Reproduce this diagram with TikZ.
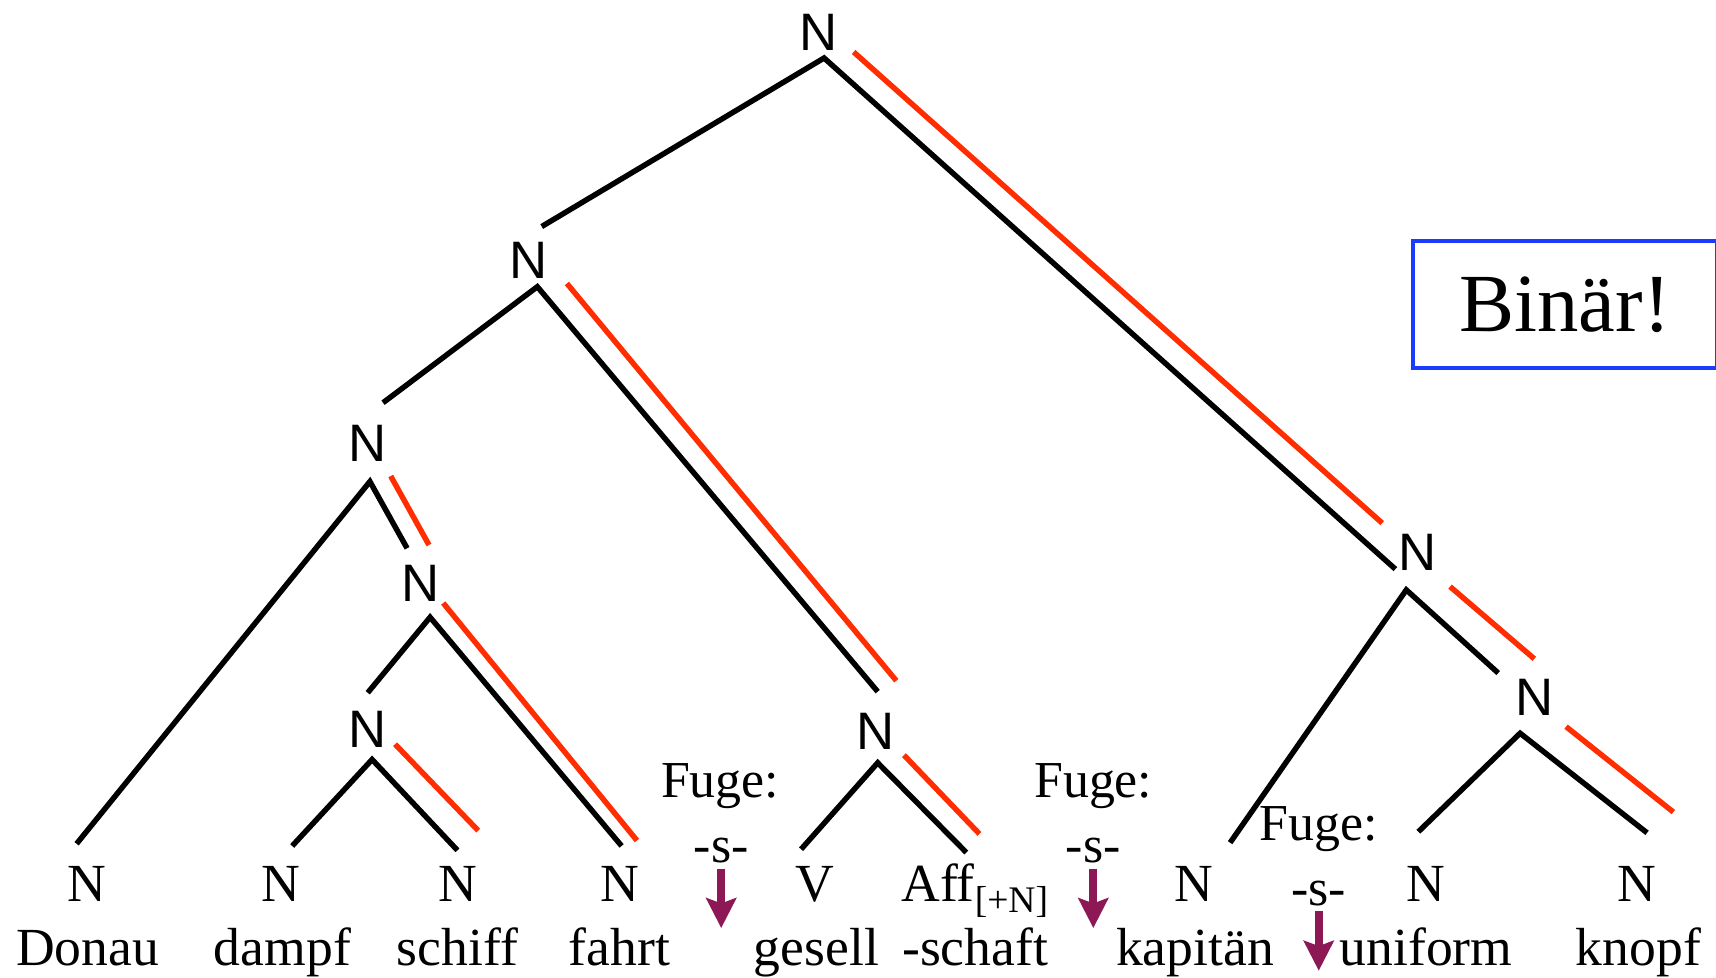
\documentclass[tikz,border=0pt]{standalone}
\usepackage{fontspec}
\setmainfont{Liberation Serif}
\newfontfamily\treefont{Liberation Sans}
\usepackage{tikz}
\usetikzlibrary{arrows.meta,calc}
\definecolor{headred}{RGB}{255,45,0}
\definecolor{fugepurple}{RGB}{140,25,85}
\definecolor{boxblue}{RGB}{25,60,255}
\tikzset{
    %Define standard arrow tip
    >={Stealth[width=17pt,length=17pt,inset=3pt]},
    %Define style for tree labels
    catnode/.style={
             inner sep=0pt,
             font=\treefont\fontsize{30}{30}\selectfont},
    leafnode/.style={
             inner sep=0pt, anchor=base,
             font=\fontsize{30.5}{30.5}\selectfont},
    fugenode/.style={
             inner sep=0pt, anchor=base,
             font=\fontsize{29.5}{29.5}\selectfont},
    boxnode/.style={
             draw=boxblue, line width=2.3pt,
             minimum width=172.5pt, minimum height=72pt,
             font=\fontsize{47}{47}\selectfont},
    % Define line styles
    treeline/.style={
            line width=3.1pt},
    headline/.style={
            line width=3.1pt,
            draw=headred},
    fugearrow/.style={
            ->,
            line width=4.6pt,
            draw=fugepurple}
}

\begin{document}
\begin{tikzpicture}[x=0.02188cm, y=-0.02188cm]
 \useasboundingbox (0,0) rectangle (1568,893);
 % inner nodes
 \node[catnode] (root) at (748,30) {N};
 \node[catnode] (dgesell) at (483,238) {N};
 \node[catnode] (dfahrt) at (336,405) {N};
 \node[catnode] (sfahrt) at (384,533) {N};
 \node[catnode] (dschiff) at (336,666) {N};
 \node[catnode] (gesell) at (800,668) {N};
 \node[catnode] (kapknopf) at (1295,505) {N};
 \node[catnode] (uknopf) at (1402,637) {N};
 % leaves
 \node[leafnode] (cDonau) at (79,824) {N};
 \node[leafnode] (cdampf) at (257,824) {N};
 \node[leafnode] (cschiff) at (418,824) {N};
 \node[leafnode] (cfahrt) at (566,824) {N};
 \node[leafnode] (cgesell) at (745,824) {V};
 \node[leafnode] (cschaft) at (891,824) {Aff\textsubscript{[+N]}};
 \node[leafnode] (ckapitaen) at (1091,824) {N};
 \node[leafnode] (cuniform) at (1303,824) {N};
 \node[leafnode] (cknopf) at (1496,824) {N};
 \node[leafnode] (wDonau) at (80,882) {Donau};
 \node[leafnode] (wdampf) at (258,882) {dampf};
 \node[leafnode] (wschiff) at (418,882) {schiff};
 \node[leafnode] (wfahrt) at (566,882) {fahrt};
 \node[leafnode] (wgesell) at (746,882) {gesell};
 \node[leafnode] (wschaft) at (891,882) {-schaft};
 \node[leafnode] (wkapitaen) at (1092,882) {kapitän};
 \node[leafnode] (wuniform) at (1303,882) {uniform};
 \node[leafnode] (wknopf) at (1497,882) {knopf};
 % linking elements
 \node[fugenode] (fuge1) at (658,729) {Fuge:};
 \node[fugenode] (s1) at (659,788) {-s-};
 \node[fugenode] (fuge2) at (999,729) {Fuge:};
 \node[fugenode] (s2) at (999,788) {-s-};
 \node[fugenode] (fuge3) at (1205,768) {Fuge:};
 \node[fugenode] (s3) at (1205,827) {-s-};
 \coordinate (s1tip) at (659,848);
 \coordinate (s2tip) at (999,848);
 \coordinate (s3tip) at (1205,887);
 \draw[fugearrow] ($(s1.south)+(0,5)$) -- (s1tip);
 \draw[fugearrow] ($(s2.south)+(0,5)$) -- (s2tip);
 \draw[fugearrow] ($(s3.south)+(0,5)$) -- (s3tip);
 % branches
 \draw[treeline] ($(dgesell)+(12,-31)$) -- ($(root)+(5,23)$) -- ($(kapknopf)+(-20,15)$);
 \draw[headline] ($(root)+(32,17.5)$) -- ($(kapknopf)+(-32,-27)$);
 \draw[treeline] ($(dfahrt)+(14,-37)$) -- ($(dgesell)+(8,24)$) -- ($(gesell)+(2,-36)$);
 \draw[headline] ($(dgesell)+(35,21)$) -- ($(gesell)+(19,-46)$);
 \draw[treeline] ($(cDonau.base)+(-9,-53)$) -- ($(dfahrt)+(2,35)$) -- ($(sfahrt)+(-12,-32)$);
 \draw[headline] ($(dfahrt)+(21,30)$) -- ($(sfahrt)+(8,-35)$);
 \draw[treeline] ($(dschiff)+(0,-33)$) -- ($(sfahrt)+(9,31)$) -- ($(cfahrt.base)+(2,-51)$);
 \draw[headline] ($(sfahrt)+(21,18)$) -- ($(cfahrt.base)+(16,-56)$);
 \draw[treeline] ($(cdampf.base)+(10,-51)$) -- ($(dschiff)+(4,28)$) -- ($(cschiff.base)+(0,-47)$);
 \draw[headline] ($(dschiff)+(25,14)$) -- ($(cschiff.base)+(19,-65)$);
 \draw[treeline] ($(cgesell.base)+(-13,-48)$) -- ($(gesell)+(2,29)$) -- ($(cschaft.base)+(-8,-45)$);
 \draw[headline] ($(gesell)+(26,22)$) -- ($(cschaft.base)+(4,-62)$);
 \draw[treeline] ($(ckapitaen.base)+(33,-54)$) -- ($(kapknopf)+(-10,34)$) -- ($(uknopf)+(-33,-22)$);
 \draw[headline] ($(kapknopf)+(30,31)$) -- ($(uknopf)+(0,-35)$);
 \draw[treeline] ($(cuniform.base)+(-7,-64)$) -- ($(uknopf)+(-13,33)$) -- ($(cknopf.base)+(9,-63)$);
 \draw[headline] ($(uknopf)+(29,27)$) -- ($(cknopf.base)+(33,-82)$);
 % remark
 \node[boxnode] (binaer) at (1430,278) {Binär!};
\end{tikzpicture}
\end{document}
